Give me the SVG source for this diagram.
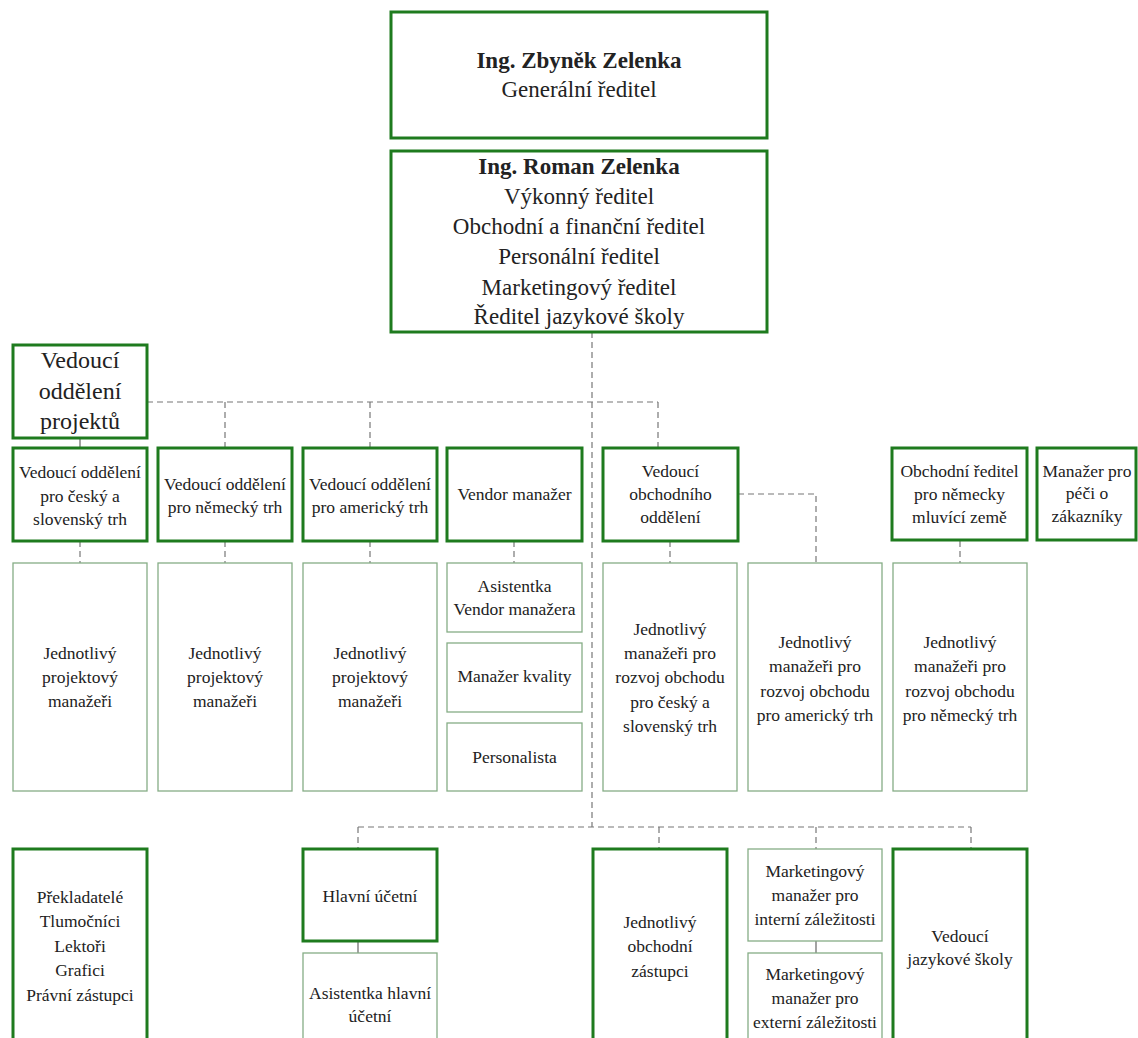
<svg xmlns="http://www.w3.org/2000/svg" width="1138" height="1038" viewBox="0 0 1138 1038">
<style>
  .thick{fill:#fff;stroke:#1e7b1e;stroke-width:3}
  .thin{fill:#fff;stroke:#86ad86;stroke-width:1.3}
  .dash{fill:none;stroke:#777;stroke-width:1.2;stroke-dasharray:6 4}
  .solid{fill:none;stroke:#666;stroke-width:1.2}
  text{font-family:"Liberation Serif","Times New Roman",serif;fill:#222;text-anchor:middle}
  .big{font-size:23px}
  .mid{font-size:24px}
  .sm{font-size:17.5px}
  .b{font-weight:bold}
</style>
<rect width="1138" height="1038" fill="#fff"/>
<g id="connectors">
  <path class="dash" d="M592 332 V827"/>
  <path class="dash" d="M147 402 H658 M225 402 V448 M370 402 V448 M658 402 V448"/>
  <path class="solid" d="M80 438 V448"/>
  <path class="dash" d="M738 494 H816 V563"/>
  <path class="dash" d="M80 541 V563 M225 541 V563 M370 541 V563 M514 541 V563 M670 541 V563 M960 541 V563"/>
  <path class="dash" d="M358 827 H971 M358 827 V849 M659 827 V849 M816 827 V849 M971 827 V849"/>
  <path class="solid" d="M358 941 V953 M816 941 V953"/>
  <path d="M648 262 V277" stroke="#222" stroke-width="1"/>
</g>
<g id="n-generalni">
  <rect class="thick" x="391" y="12" width="376" height="126"/>
  <text class="big b" x="579" y="68">Ing. Zbyněk Zelenka</text>
  <text class="big" x="579" y="97">Generální ředitel</text>
</g>
<g id="n-vykonny">
  <rect class="thick" x="391" y="151" width="376" height="181"/>
  <text class="big b" x="579" y="174">Ing. Roman Zelenka</text>
  <text class="big" x="579" y="204">Výkonný ředitel</text>
  <text class="big" x="579" y="234">Obchodní a finanční ředitel</text>
  <text class="big" x="579" y="264">Personální ředitel</text>
  <text class="big" x="579" y="295">Marketingový ředitel</text>
  <text class="big" x="579" y="324">Ředitel jazykové školy</text>
</g>
<g id="n-projekty">
  <rect class="thick" x="13" y="345" width="134" height="93"/>
  <text class="mid" x="80" y="368">Vedoucí</text>
  <text class="mid" x="80" y="399">oddělení</text>
  <text class="mid" x="80" y="429">projektů</text>
</g>
<g id="n-cs">
  <rect class="thick" x="13" y="448" width="134" height="93"/>
  <text class="sm" x="80" y="478">Vedoucí oddělení</text>
  <text class="sm" x="80" y="502">pro český a</text>
  <text class="sm" x="80" y="525">slovenský trh</text>
</g>
<g id="n-de">
  <rect class="thick" x="158" y="448" width="134" height="93"/>
  <text class="sm" x="225" y="490">Vedoucí oddělení</text>
  <text class="sm" x="225" y="513">pro německý trh</text>
</g>
<g id="n-us">
  <rect class="thick" x="303" y="448" width="134" height="93"/>
  <text class="sm" x="370" y="490">Vedoucí oddělení</text>
  <text class="sm" x="370" y="513">pro americký trh</text>
</g>
<g id="n-vendor">
  <rect class="thick" x="447" y="448" width="135" height="93"/>
  <text class="sm" x="514.5" y="500">Vendor manažer</text>
</g>
<g id="n-obchod">
  <rect class="thick" x="603" y="448" width="135" height="93"/>
  <text class="sm" x="670.5" y="477">Vedoucí</text>
  <text class="sm" x="670.5" y="500">obchodního</text>
  <text class="sm" x="670.5" y="523">oddělení</text>
</g>
<g id="n-obchod-de">
  <rect class="thick" x="892" y="448" width="135" height="92"/>
  <text class="sm" x="959.5" y="477">Obchodní ředitel</text>
  <text class="sm" x="959.5" y="500">pro německy</text>
  <text class="sm" x="959.5" y="523">mluvící země</text>
</g>
<g id="n-pece">
  <rect class="thick" x="1037" y="448" width="99" height="92"/>
  <text class="sm" x="1087" y="477">Manažer pro</text>
  <text class="sm" x="1087" y="499">péči o</text>
  <text class="sm" x="1087" y="522">zákazníky</text>
</g>
<g id="n-pm-cs">
  <rect class="thin" x="13" y="563" width="134" height="228"/>
  <text class="sm" x="80" y="659">Jednotlivý</text>
  <text class="sm" x="80" y="683">projektový</text>
  <text class="sm" x="80" y="707">manažeři</text>
</g>
<g id="n-pm-de">
  <rect class="thin" x="158" y="563" width="134" height="228"/>
  <text class="sm" x="225" y="659">Jednotlivý</text>
  <text class="sm" x="225" y="683">projektový</text>
  <text class="sm" x="225" y="707">manažeři</text>
</g>
<g id="n-pm-us">
  <rect class="thin" x="303" y="563" width="134" height="228"/>
  <text class="sm" x="370" y="659">Jednotlivý</text>
  <text class="sm" x="370" y="683">projektový</text>
  <text class="sm" x="370" y="707">manažeři</text>
</g>
<g id="n-asist-vendor">
  <rect class="thin" x="447" y="563" width="135" height="69"/>
  <text class="sm" x="514.5" y="592">Asistentka</text>
  <text class="sm" x="514.5" y="615">Vendor manažera</text>
</g>
<g id="n-kvalita">
  <rect class="thin" x="447" y="643" width="135" height="69"/>
  <text class="sm" x="514.5" y="682">Manažer kvality</text>
</g>
<g id="n-personalista">
  <rect class="thin" x="447" y="723" width="135" height="68"/>
  <text class="sm" x="514.5" y="763">Personalista</text>
</g>
<g id="n-bd-cs">
  <rect class="thin" x="603" y="563" width="134" height="228"/>
  <text class="sm" x="670" y="635">Jednotlivý</text>
  <text class="sm" x="670" y="659">manažeři pro</text>
  <text class="sm" x="670" y="683">rozvoj obchodu</text>
  <text class="sm" x="670" y="708">pro český a</text>
  <text class="sm" x="670" y="732">slovenský trh</text>
</g>
<g id="n-bd-us">
  <rect class="thin" x="748" y="563" width="134" height="228"/>
  <text class="sm" x="815" y="648">Jednotlivý</text>
  <text class="sm" x="815" y="672">manažeři pro</text>
  <text class="sm" x="815" y="697">rozvoj obchodu</text>
  <text class="sm" x="815" y="721">pro americký trh</text>
</g>
<g id="n-bd-de">
  <rect class="thin" x="893" y="563" width="134" height="228"/>
  <text class="sm" x="960" y="648">Jednotlivý</text>
  <text class="sm" x="960" y="672">manažeři pro</text>
  <text class="sm" x="960" y="697">rozvoj obchodu</text>
  <text class="sm" x="960" y="721">pro německý trh</text>
</g>
<g id="n-prekladatele">
  <rect class="thick" x="13" y="849" width="134" height="210"/>
  <text class="sm" x="80" y="903">Překladatelé</text>
  <text class="sm" x="80" y="927">Tlumočníci</text>
  <text class="sm" x="80" y="952">Lektoři</text>
  <text class="sm" x="80" y="976">Grafici</text>
  <text class="sm" x="80" y="1001">Právní zástupci</text>
</g>
<g id="n-ucetni">
  <rect class="thick" x="303" y="849" width="134" height="92"/>
  <text class="sm" x="370" y="902">Hlavní účetní</text>
</g>
<g id="n-asist-ucetni">
  <rect class="thin" x="303" y="953" width="134" height="110"/>
  <text class="sm" x="370" y="999">Asistentka hlavní</text>
  <text class="sm" x="370" y="1022">účetní</text>
</g>
<g id="n-zastupci">
  <rect class="thick" x="593" y="849" width="134" height="210"/>
  <text class="sm" x="660" y="928">Jednotlivý</text>
  <text class="sm" x="660" y="952">obchodní</text>
  <text class="sm" x="660" y="977">zástupci</text>
</g>
<g id="n-mkt-int">
  <rect class="thin" x="748" y="849" width="134" height="92"/>
  <text class="sm" x="815" y="877">Marketingový</text>
  <text class="sm" x="815" y="901">manažer pro</text>
  <text class="sm" x="815" y="925">interní záležitosti</text>
</g>
<g id="n-mkt-ext">
  <rect class="thin" x="748" y="953" width="134" height="110"/>
  <text class="sm" x="815" y="980">Marketingový</text>
  <text class="sm" x="815" y="1004">manažer pro</text>
  <text class="sm" x="815" y="1028">externí záležitosti</text>
</g>
<g id="n-skola">
  <rect class="thick" x="893" y="849" width="134" height="210"/>
  <text class="sm" x="960" y="942">Vedoucí</text>
  <text class="sm" x="960" y="965">jazykové školy</text>
</g>
</svg>
